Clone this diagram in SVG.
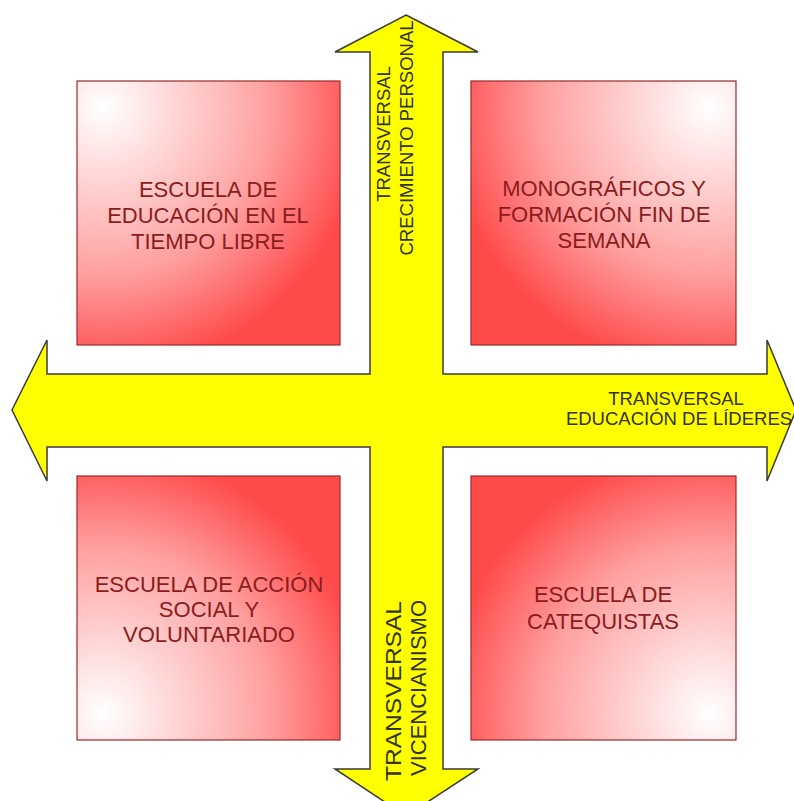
<svg xmlns="http://www.w3.org/2000/svg" width="794" height="801" viewBox="0 0 794 801">
<defs>
<radialGradient id="gTL" cx="0.1" cy="0.1" r="1.05" fx="0.1" fy="0.1"><stop offset="0" stop-color="#ffffff"/><stop offset="0.6" stop-color="#ffa0a0"/><stop offset="0.95" stop-color="#ff4a4a"/></radialGradient>
<radialGradient id="gTR" cx="0.9" cy="0.1" r="1.05" fx="0.9" fy="0.1"><stop offset="0" stop-color="#ffffff"/><stop offset="0.6" stop-color="#ffa0a0"/><stop offset="0.95" stop-color="#ff4a4a"/></radialGradient>
<radialGradient id="gBL" cx="0.1" cy="0.9" r="1.05" fx="0.1" fy="0.9"><stop offset="0" stop-color="#ffffff"/><stop offset="0.6" stop-color="#ffa0a0"/><stop offset="0.95" stop-color="#ff4a4a"/></radialGradient>
<radialGradient id="gBR" cx="0.9" cy="0.9" r="1.05" fx="0.9" fy="0.9"><stop offset="0" stop-color="#ffffff"/><stop offset="0.6" stop-color="#ffa0a0"/><stop offset="0.95" stop-color="#ff4a4a"/></radialGradient>
</defs>
<style>
.box{stroke:#9a2a2a;stroke-width:1.2}
.bt{font-family:"Liberation Sans",Arial,sans-serif;font-size:22px;fill:#8a1c1c;text-anchor:middle}
.at{font-family:"Liberation Sans",Arial,sans-serif;fill:#333318;text-anchor:middle}
.arrow{fill:#ffff00;stroke:#3a3a3a;stroke-width:1.5;stroke-linejoin:miter}
</style>
<rect width="794" height="801" fill="#ffffff"/>
<g id="box-tl">
<rect class="box" x="77" y="81" width="263" height="264" fill="url(#gTL)"/>
<text class="bt" x="208" y="197">ESCUELA DE</text>
<text class="bt" x="208" y="223">EDUCACIÓN EN EL</text>
<text class="bt" x="208" y="249">TIEMPO LIBRE</text>
</g>
<g id="box-tr">
<rect class="box" x="471" y="81" width="265" height="264" fill="url(#gTR)"/>
<text class="bt" x="604" y="196">MONOGRÁFICOS Y</text>
<text class="bt" x="604" y="222">FORMACIÓN FIN DE</text>
<text class="bt" x="604" y="248">SEMANA</text>
</g>
<g id="box-bl">
<rect class="box" x="77" y="476" width="263" height="264" fill="url(#gBL)"/>
<text class="bt" x="209" y="592">ESCUELA DE ACCIÓN</text>
<text class="bt" x="209" y="617">SOCIAL Y</text>
<text class="bt" x="209" y="642">VOLUNTARIADO</text>
</g>
<g id="box-br">
<rect class="box" x="471" y="476" width="265" height="264" fill="url(#gBR)"/>
<text class="bt" x="603" y="602">ESCUELA DE</text>
<text class="bt" x="603" y="629">CATEQUISTAS</text>
</g>
<g id="connectors">
<polygon class="arrow" points="406,15 478,52 443,52 443,374 767,374 767,340 796,410 767,481 767,447 443,447 443,769 478,769 406,816 335,769 370,769 370,447 47,447 47,481 12,410 47,340 47,374 370,374 370,52 335,52"/>
</g>
<g id="label-top">
<text class="at" font-size="18.5" transform="translate(390,134) rotate(-90)">TRANSVERSAL</text>
<text class="at" font-size="18.5" transform="translate(413,138) rotate(-90)">CRECIMIENTO PERSONAL</text>
</g>
<g id="label-bottom">
<text class="at" font-size="22" transform="translate(401,691) rotate(-90)" textLength="180" lengthAdjust="spacingAndGlyphs">TRANSVERSAL</text>
<text class="at" font-size="22" transform="translate(426,688) rotate(-90)">VICENCIANISMO</text>
</g>
<g id="label-right">
<text class="at" font-size="18.5" x="676" y="405">TRANSVERSAL</text>
<text class="at" font-size="18.5" x="679" y="425">EDUCACIÓN DE LÍDERES</text>
</g>
</svg>
